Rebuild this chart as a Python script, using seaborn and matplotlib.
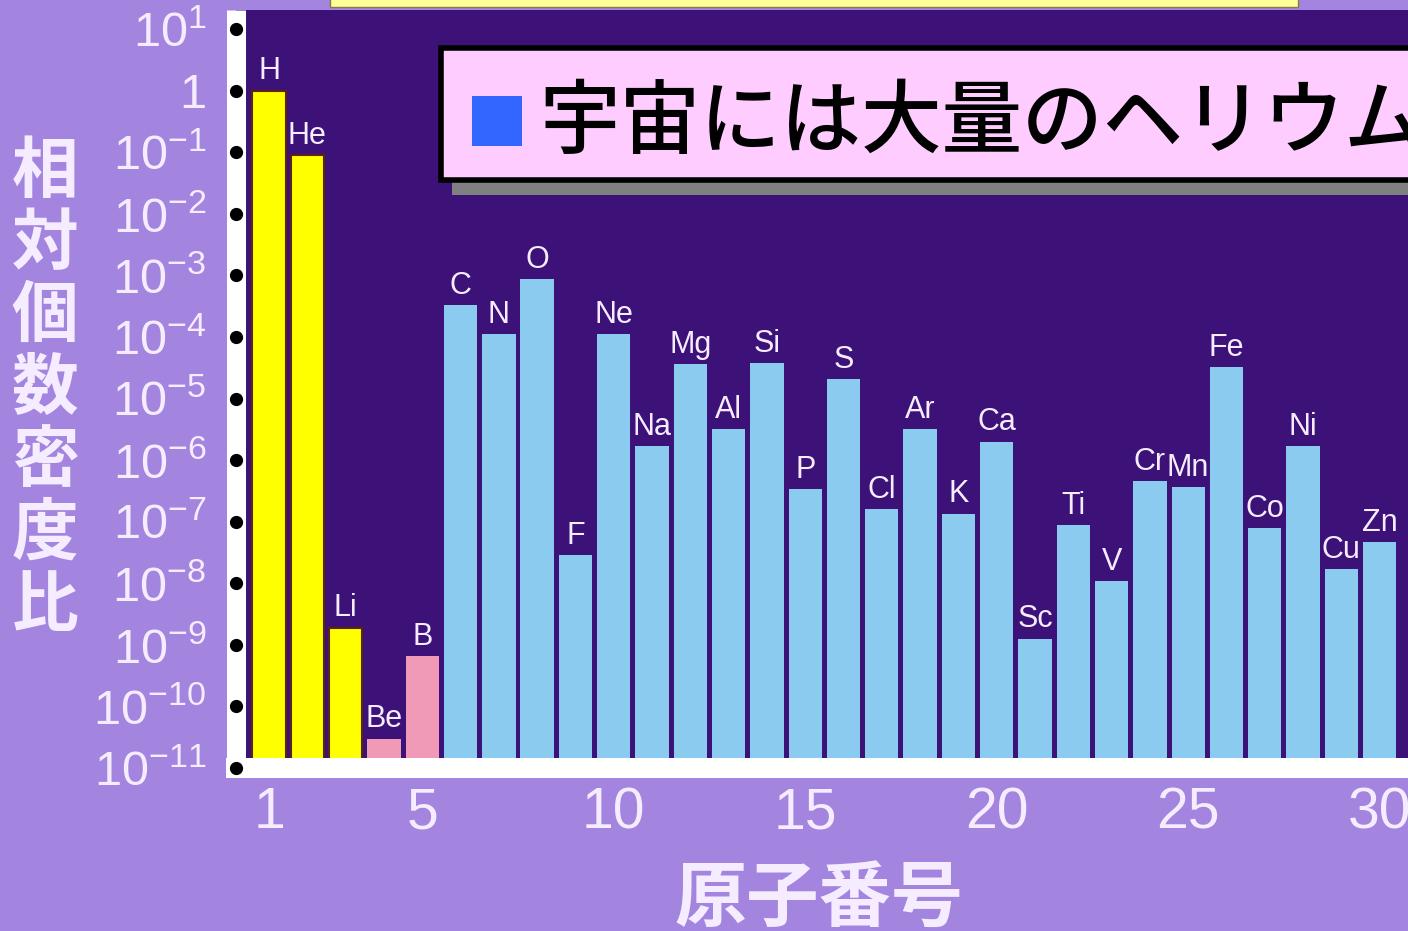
import matplotlib
matplotlib.use("Agg")
import matplotlib.pyplot as plt
import seaborn as sns
import pandas as pd
from matplotlib.patches import Rectangle

# data (relative number density, H = 1)
elements = ["H", "He", "Li", "Be", "B", "C", "N", "O", "F", "Ne",
            "Na", "Mg", "Al", "Si", "P", "S", "Cl", "Ar", "K", "Ca",
            "Sc", "Ti", "V", "Cr", "Mn", "Fe", "Co", "Ni", "Cu", "Zn"]
atomic_number = list(range(1, 31))
abundance = [1.0, 8.9e-2, 1.9e-9, 3.0e-11, 6.6e-10, 3.3e-4, 1.1e-4, 8.7e-4, 2.9e-8, 1.1e-4,
             1.7e-6, 3.6e-5, 3.2e-6, 3.8e-5, 3.4e-7, 2.1e-5, 1.6e-7, 3.2e-6, 1.35e-7, 2.0e-6,
             1.26e-9, 8.9e-8, 1.1e-8, 4.5e-7, 3.6e-7, 3.2e-5, 7.9e-8, 1.7e-6, 1.7e-8, 4.6e-8]
group = ["H-Li"] * 3 + ["Be-B"] * 2 + ["C-Zn"] * 25
xticks = [1, 5, 10, 15, 20, 25, 30]
yexp = list(range(1, -12, -1))

title = "宇宙には大量のヘリウム"
ylabel = "相対個数密度比"
xlabel = "原子番号"

fig_bg = "#a385e0"
plot_bg = "#3c1278"
txt = "#f6ecff"
palette = {"H-Li": "#ffff00", "Be-B": "#f09ab8", "C-Zn": "#8ccbf0"}
latin = ["Liberation Sans", "DejaVu Sans"]
jp = ["Noto Sans CJK JP", "DejaVu Sans"]

plt.rcParams["font.family"] = latin
plt.rcParams["mathtext.fontset"] = "custom"
plt.rcParams["mathtext.rm"] = "Liberation Sans"
plt.rcParams["mathtext.it"] = "Liberation Sans"
plt.rcParams["mathtext.bf"] = "Liberation Sans"

df = pd.DataFrame({"z": atomic_number, "abundance": abundance,
                   "element": elements, "group": group})

fig = plt.figure(figsize=(14.08, 9.31), dpi=100, facecolor=fig_bg)
ax = fig.add_axes([0.1673, 0.1751, 0.8327, 0.8142])
ax.set_facecolor(plot_bg)

sns.barplot(data=df, x="z", y="abundance", hue="group", palette=palette,
            native_scale=True, width=0.87, dodge=False, legend=False,
            saturation=1, ax=ax)
ax.set_yscale("log")

# thin dark outline on the yellow bars
for p in ax.patches:
    if p.get_facecolor()[2] < 0.2:
        p.set_edgecolor("#5a2410")
        p.set_linewidth(1.5)
    else:
        p.set_edgecolor("none")

ax.set_xlim(0.125, 30.74)
ax.set_ylim(1e-11, 10 ** 1.31)

# element symbols above bars
for z, v, s in zip(atomic_number, abundance, elements):
    ax.annotate(s, (z, v), xytext=(0, 3), textcoords="offset points",
                ha="center", va="bottom", fontsize=22, color=txt)

# axes styling
for side in ["top", "right"]:
    ax.spines[side].set_visible(False)
ax.spines["left"].set_color("white")
ax.spines["left"].set_linewidth(13.7)
ax.spines["left"].set_capstyle("butt")
ax.spines["bottom"].set_color("white")
ax.spines["bottom"].set_linewidth(14.4)
ax.spines["bottom"].set_capstyle("projecting")

ax.set_xticks(xticks)
ax.set_xticklabels([str(t) for t in xticks])
ax.set_yticks([10.0 ** e for e in yexp])
ylabels = []
for e in yexp:
    if e == 0:
        ylabels.append("1")
    else:
        ylabels.append("$10^{%d}$" % e)
ax.set_yticklabels(ylabels)
ax.minorticks_off()
ax.tick_params(axis="y", length=0, pad=21, labelsize=35, labelcolor=txt)
ax.tick_params(axis="x", length=0, pad=13, labelsize=41, labelcolor=txt)
ax.set_xlabel("")
ax.set_ylabel("")

# black dots on the y axis
ax.plot([0.125] * len(yexp), [10.0 ** e for e in yexp], "o", color="black",
        ms=8.5, clip_on=False, zorder=5)

# axis titles
fig.text(0.032, 0.582, "\n".join(ylabel), ha="center", va="center",
         fontsize=48, fontweight="bold", color=txt, family=jp, linespacing=1.1)
fig.text(0.582, 0.034, xlabel, ha="center", va="center",
         fontsize=52, fontweight="bold", color=txt, family=jp)

# yellow box cut off at top
fig.add_artist(Rectangle((0.2344, 0.9925), 0.6875, 0.03, transform=fig.transFigure,
                         facecolor="#ffff99", edgecolor="#8a7a40", lw=1))

# title box with shadow
fig.add_artist(Rectangle((0.321, 0.7905), 0.75, 0.1418, transform=fig.transFigure,
                         facecolor="#808080", edgecolor="none", zorder=10))
fig.add_artist(Rectangle((0.3132, 0.8067), 0.75, 0.1418, transform=fig.transFigure,
                         facecolor="#ffccff", edgecolor="black", lw=4, zorder=11))
fig.add_artist(Rectangle((0.3352, 0.8432), 0.0355, 0.0537, transform=fig.transFigure,
                         facecolor="#3366ff", edgecolor="none", zorder=12))
fig.text(0.383, 0.867, title, ha="left", va="center", fontsize=58,
         fontweight="medium", color="black", family=jp, zorder=12)

fig.savefig("out.png", dpi=100, facecolor=fig_bg)
